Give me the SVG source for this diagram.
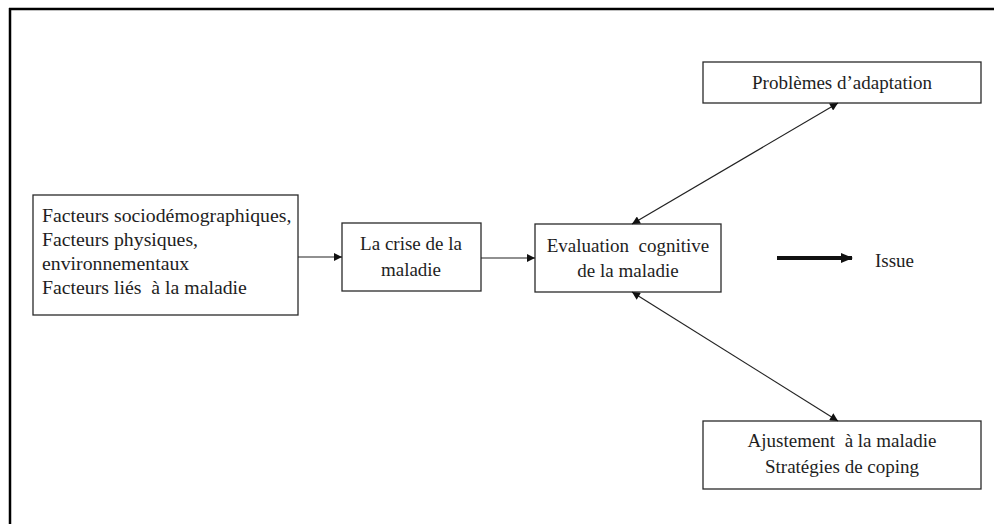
<svg xmlns="http://www.w3.org/2000/svg" width="994" height="524" viewBox="0 0 994 524">
<defs>
<marker id="ah" viewBox="0 0 10 10" refX="10" refY="5" markerWidth="9" markerHeight="8" markerUnits="userSpaceOnUse" orient="auto-start-reverse">
<path d="M0,0 L10,5 L0,10 z" fill="#111"/>
</marker>
<marker id="ahb" viewBox="0 0 12 10" refX="11" refY="5" markerWidth="12" markerHeight="10" markerUnits="userSpaceOnUse" orient="auto">
<path d="M0,0 L12,5 L0,10 z" fill="#111"/>
</marker>
</defs>
<style>
.box{fill:#fff;stroke:#2a2a2a;stroke-width:1.3}
.t{font-family:"Liberation Serif","Times New Roman",serif;font-size:19px;fill:#1e1e1e}
.c{text-anchor:middle}
.pre{white-space:pre}
.con{stroke:#222;stroke-width:1.2;fill:none}
</style>
<rect width="994" height="524" fill="#fff"/>
<g id="frame">
<line x1="9" y1="9" x2="994" y2="9" stroke="#000" stroke-width="2.5"/>
<line x1="10" y1="8" x2="10" y2="524" stroke="#000" stroke-width="2.5"/>
</g>
<g id="facteurs">
<rect class="box" x="33" y="195" width="265" height="120"/>
<text class="t pre" x="42" y="222" style="font-size:19.8px">Facteurs sociodémographiques,</text>
<text class="t pre" x="42" y="246" style="font-size:19.8px">Facteurs physiques,</text>
<text class="t pre" x="42" y="270" style="font-size:19.8px">environnementaux</text>
<text class="t pre" x="42" y="294" style="font-size:19.8px">Facteurs liés  à la maladie</text>
</g>
<g id="crise">
<rect class="box" x="342" y="223" width="139" height="68"/>
<text class="t c" x="411" y="250">La crise de la</text>
<text class="t c" x="411" y="276">maladie</text>
</g>
<g id="evaluation">
<rect class="box" x="535" y="224" width="186" height="68"/>
<text class="t c pre" x="628" y="252">Evaluation  cognitive</text>
<text class="t c" x="628" y="277">de la maladie</text>
</g>
<g id="problemes">
<rect class="box" x="703" y="62" width="278" height="41"/>
<text class="t c" x="842" y="89">Problèmes d’adaptation</text>
</g>
<g id="ajustement">
<rect class="box" x="703" y="421" width="278" height="68"/>
<text class="t c pre" x="842" y="447">Ajustement  à la maladie</text>
<text class="t c" x="842" y="473">Stratégies de coping</text>
</g>
<g id="issue">
<text class="t" x="875" y="267">Issue</text>
</g>
<g id="connectors">
<line class="con" x1="298" y1="257" x2="342" y2="257" marker-end="url(#ah)"/>
<line class="con" x1="481" y1="258" x2="535" y2="258" marker-end="url(#ah)"/>
<line class="con" x1="632" y1="224" x2="838" y2="103" marker-start="url(#ah)" marker-end="url(#ah)"/>
<line class="con" x1="632" y1="292" x2="838" y2="421" marker-start="url(#ah)" marker-end="url(#ah)"/>
<line x1="777" y1="258" x2="852" y2="258" stroke="#111" stroke-width="4" marker-end="url(#ahb)"/>
</g>
</svg>
